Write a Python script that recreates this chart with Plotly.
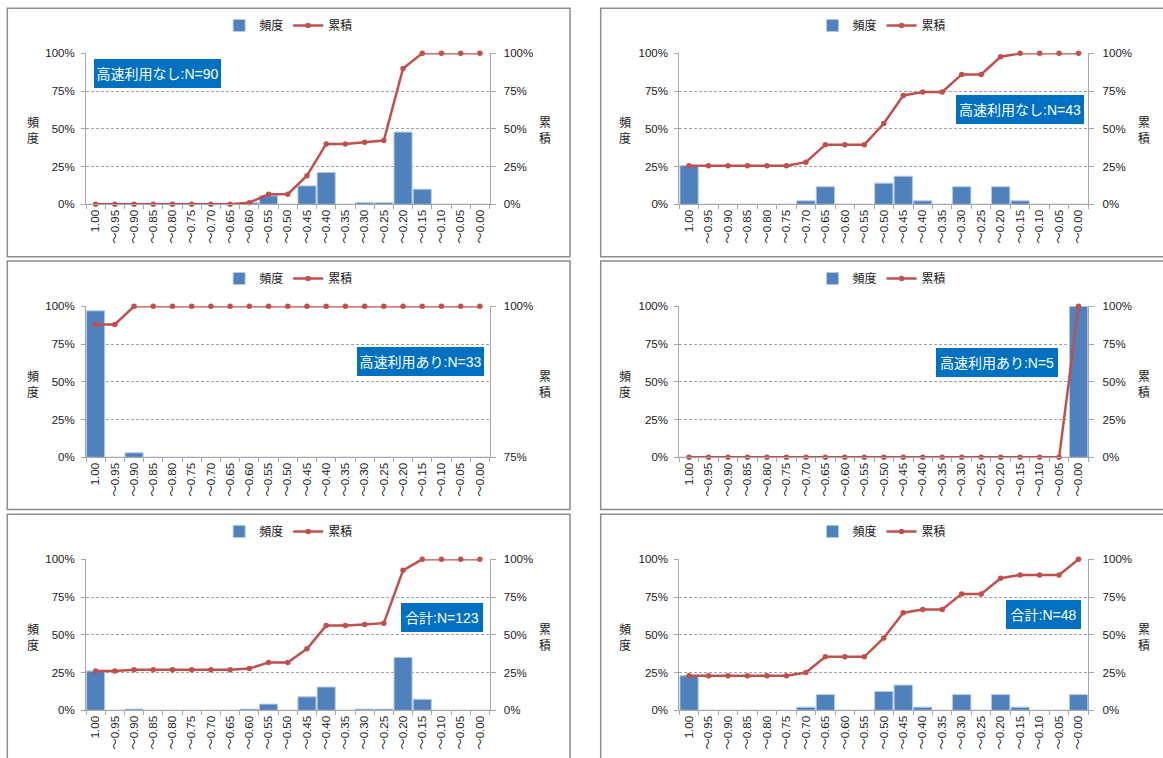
import plotly.graph_objects as go

# Category bins (ratio ranges, high to low)
CATEGORIES = ["1.00", "～0.95", "～0.90", "～0.85", "～0.80", "～0.75", "～0.70",
              "～0.65", "～0.60", "～0.55", "～0.50", "～0.45", "～0.40", "～0.35",
              "～0.30", "～0.25", "～0.20", "～0.15", "～0.10", "～0.05", "～0.00"]

# Frequency (%) and cumulative (%) per group
FREQ_NONE_90 = [0, 0, 0, 0, 0, 0, 0, 0, 1.1, 5.6, 0, 12.2, 21.1, 0, 1.1, 1.1, 47.8, 10.0, 0, 0, 0]
CUM_NONE_90 = [0, 0, 0, 0, 0, 0, 0, 0, 1.1, 6.7, 6.7, 18.9, 40.0, 40.0, 41.1, 42.2, 90.0, 100, 100, 100, 100]

FREQ_NONE_43 = [25.6, 0, 0, 0, 0, 0, 2.3, 11.6, 0, 0, 14.0, 18.6, 2.3, 0, 11.6, 0, 11.6, 2.3, 0, 0, 0]
CUM_NONE_43 = [25.6, 25.6, 25.6, 25.6, 25.6, 25.6, 27.9, 39.5, 39.5, 39.5, 53.5, 72.1, 74.4, 74.4, 86.0, 86.0, 97.7, 100, 100, 100, 100]

FREQ_USED_33 = [97.0, 0, 3.0, 0, 0, 0, 0, 0, 0, 0, 0, 0, 0, 0, 0, 0, 0, 0, 0, 0, 0]
CUM_USED_33 = [97.0, 97.0, 100, 100, 100, 100, 100, 100, 100, 100, 100, 100, 100, 100, 100, 100, 100, 100, 100, 100, 100]

FREQ_USED_5 = [0, 0, 0, 0, 0, 0, 0, 0, 0, 0, 0, 0, 0, 0, 0, 0, 0, 0, 0, 0, 100]
CUM_USED_5 = [0, 0, 0, 0, 0, 0, 0, 0, 0, 0, 0, 0, 0, 0, 0, 0, 0, 0, 0, 0, 100]

FREQ_TOTAL_123 = [26.0, 0, 0.8, 0, 0, 0, 0, 0, 0.8, 4.1, 0, 8.9, 15.4, 0, 0.8, 0.8, 35.0, 7.3, 0, 0, 0]
CUM_TOTAL_123 = [26.0, 26.0, 26.8, 26.8, 26.8, 26.8, 26.8, 26.8, 27.6, 31.7, 31.7, 40.7, 56.1, 56.1, 56.9, 57.7, 92.7, 100, 100, 100, 100]

FREQ_TOTAL_48 = [22.9, 0, 0, 0, 0, 0, 2.1, 10.4, 0, 0, 12.5, 16.7, 2.1, 0, 10.4, 0, 10.4, 2.1, 0, 0, 10.4]
CUM_TOTAL_48 = [22.9, 22.9, 22.9, 22.9, 22.9, 22.9, 25.0, 35.4, 35.4, 35.4, 47.9, 64.6, 66.7, 66.7, 77.1, 77.1, 87.5, 89.6, 89.6, 89.6, 100]

LABELS = ["高速利用なし:N=90", "高速利用なし:N=43", "高速利用あり:N=33",
          "高速利用あり:N=5", "合計:N=123", "合計:N=48"]
CUM_RANGES = [[0, 100], [0, 100], [75, 100], [0, 100], [0, 100], [0, 100]]

FREQS = [FREQ_NONE_90, FREQ_NONE_43, FREQ_USED_33, FREQ_USED_5, FREQ_TOTAL_123, FREQ_TOTAL_48]
CUMS = [CUM_NONE_90, CUM_NONE_43, CUM_USED_33, CUM_USED_5, CUM_TOTAL_123, CUM_TOTAL_48]

W, H = 1163, 758
NUM_FONT = "Liberation Sans, Arial, Noto Sans CJK JP, sans-serif"
CJK_FONT = "Noto Sans CJK JP, sans-serif"
TEXT = "#1a1a1a"
AXIS = "#a6a6a6"
GRID = "#a0a0a0"
BAR = "#4f81bd"
LINE = "#c0504d"


def fx(p):
    return p / W


def fy(p):
    return 1 - p / H


# Pixel layout of the 3x2 grid of panels
COL_PLOT = [(86.0, 489.5), (679.3, 1088.3)]
ROW_PLOT = [(53.3, 204.3), (306.3, 457.3), (559.3, 710.3)]
COL_FRAME = [(7.3, 570.0), (600.7, 1175.0)]
ROW_FRAME = [(8.3, 256.7), (261.0, 509.5), (514.2, 770.0)]
COL_TITLE = [(32.5, 545.0), (624.5, 1144.0)]
ROW_OFFSET = [0.0, 253.0, 506.0]
# annotation boxes: (center x, center y, width, height)
BOXES = [(157.0, 73.6, 127, 29), (1019.5, 109.3, 128, 29), (420.0, 361.5, 127, 29),
         (997.5, 362.5, 122, 29), (442.0, 617.0, 82, 29), (1043.0, 614.0, 75, 29)]

fig = go.Figure()
layout = dict(
    width=W, height=H, margin=dict(l=0, r=0, t=0, b=0),
    paper_bgcolor="white", plot_bgcolor="white",
    bargap=0.06, showlegend=True,
    shapes=[], annotations=[],
    font=dict(family=NUM_FONT, color=TEXT),
)

for i in range(6):
    n = i + 1
    row, col = i // 2, i % 2
    x0, x1 = COL_PLOT[col]
    y0, y1 = ROW_PLOT[row]
    leg = "legend" if n == 1 else f"legend{n}"
    xa = f"x{n}"
    ya = f"y{n}"
    ya2 = f"y{n + 6}"

    fig.add_trace(go.Bar(
        x=CATEGORIES, y=FREQS[i], xaxis=xa, yaxis=ya, name="頻度",
        marker=dict(color=BAR, line=dict(color="#b4c7e7", width=1)),
        legend=leg, hoverinfo="x+y",
    ))
    fig.add_trace(go.Scatter(
        x=CATEGORIES, y=CUMS[i], xaxis=xa, yaxis=ya2, name="累積",
        mode="lines+markers", line=dict(color=LINE, width=2.5),
        marker=dict(color=LINE, size=5.5), legend=leg, hoverinfo="x+y",
        cliponaxis=False,
    ))

    layout[f"xaxis{n}"] = dict(
        domain=[fx(x0), fx(x1)], anchor=ya, type="category",
        categoryorder="array", categoryarray=CATEGORIES,
        range=[-0.5, len(CATEGORIES) - 0.5], autorange=False,
        showline=True, linecolor=AXIS, linewidth=1,
        ticks="outside", tickson="boundaries", ticklen=4, tickcolor=AXIS,
        tickangle=-90, tickfont=dict(size=11.5, family=NUM_FONT, color=TEXT),
        showgrid=False, zeroline=False, automargin=False, fixedrange=True,
    )
    layout[f"yaxis{n}"] = dict(
        domain=[fy(y1), fy(y0)], anchor=xa, range=[0, 100],
        tick0=0, dtick=25, ticksuffix="%",
        showline=True, linecolor=AXIS, linewidth=1,
        ticks="outside", ticklen=4, tickcolor=AXIS, ticklabelstandoff=4,
        tickfont=dict(size=11.5, family=NUM_FONT, color=TEXT),
        showgrid=True, gridcolor=GRID, griddash="3px,2px", gridwidth=1,
        zeroline=False, automargin=False, fixedrange=True,
    )
    lo, hi = CUM_RANGES[i]
    layout[f"yaxis{n + 6}"] = dict(
        overlaying=ya, anchor=xa, side="right", range=[lo, hi],
        tick0=lo, dtick=25, ticksuffix="%",
        showline=True, linecolor=AXIS, linewidth=1,
        ticks="outside", ticklen=5, tickcolor=AXIS, ticklabelstandoff=6,
        tickfont=dict(size=11.5, family=NUM_FONT, color=TEXT),
        showgrid=False, zeroline=False, automargin=False, fixedrange=True,
    )

    fx0, fx1 = COL_FRAME[col]
    fy0, fy1 = ROW_FRAME[row]
    layout[leg] = dict(
        orientation="h", x=fx((fx0 + min(fx1, 1163.4)) / 2), xanchor="center",
        y=fy(25.5 + ROW_OFFSET[row]), yanchor="middle",
        font=dict(size=12, family=CJK_FONT, color=TEXT),
        bgcolor="rgba(0,0,0,0)", itemwidth=30, traceorder="normal",
    )

    # panel frame
    layout["shapes"].append(dict(
        type="rect", xref="paper", yref="paper",
        x0=fx(fx0), x1=fx(fx1), y0=fy(fy1), y1=fy(fy0),
        line=dict(color="#8c8c8c", width=1.5), fillcolor="rgba(0,0,0,0)", layer="below",
    ))

    # vertical axis titles
    ty = 130.0 + ROW_OFFSET[row]
    for tx, txt in zip(COL_TITLE[col], ["頻<br>度", "累<br>積"]):
        layout["annotations"].append(dict(
            xref="paper", yref="paper", x=fx(tx), y=fy(ty),
            xanchor="center", yanchor="middle", showarrow=False,
            text=txt, font=dict(size=12, family=CJK_FONT, color=TEXT),
        ))

    # group label box
    bx, by, bw, bh = BOXES[i]
    layout["annotations"].append(dict(
        xref="paper", yref="paper", x=fx(bx), y=fy(by),
        xanchor="center", yanchor="middle", showarrow=False,
        text=LABELS[i], width=bw, height=bh, align="center", valign="middle",
        bgcolor="#0070c0", borderpad=0, borderwidth=0,
        font=dict(size=14, family="Liberation Sans, Noto Sans CJK JP, sans-serif", color="white"),
    ))

fig.update_layout(**layout)
fig.write_html("out.html")
